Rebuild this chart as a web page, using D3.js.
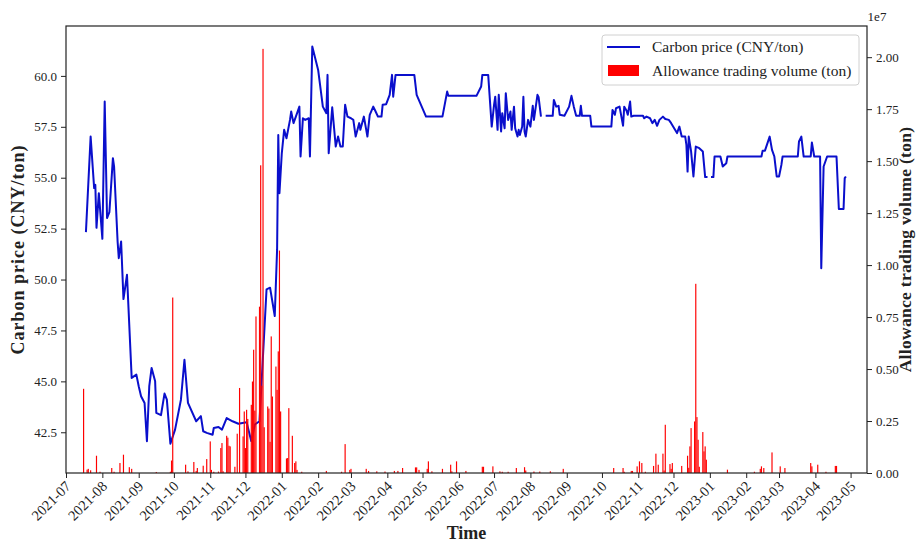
<!DOCTYPE html>
<html lang="en">
	<head>
		<meta charset="utf-8">
		<title>Carbon price and allowance trading volume</title>
		<script type="text/javascript" src="https://cdn.jsdelivr.net/npm/d3@7"></script>
		<style type="text/css">
			body { margin: 0; background: #fff; }
			text { font-family: "Liberation Serif", "Times New Roman", serif; }
		</style>
	</head>
	<body>
		<script type="text/javascript">

			//Width and height
			var w = 920;
			var h = 544;
			var pLeft = 66, pRight = 867, pTop = 26, pBottom = 473;

			//Carbon price (CNY/ton), null = gap in the line
			var priceDates = [
				"2021-07-18","2021-07-22","2021-07-25","2021-07-26","2021-07-27","2021-07-29","2021-08-01","2021-08-03","2021-08-05","2021-08-07",
				"2021-08-10","2021-08-11","2021-08-14","2021-08-15","2021-08-17","2021-08-19","2021-08-22","2021-08-24","2021-08-26","2021-08-30",
				"2021-09-01","2021-09-03","2021-09-06","2021-09-08","2021-09-10","2021-09-12","2021-09-15","2021-09-16","2021-09-20","2021-09-23",
				"2021-09-25","2021-09-28","2021-10-02","2021-10-07","2021-10-10","2021-10-13","2021-10-20","2021-10-24","2021-10-26","2021-10-29",
				"2021-11-03","2021-11-04","2021-11-08","2021-11-11","2021-11-15","2021-11-20","2021-11-25","2021-12-02","2021-12-06","2021-12-09",
				"2021-12-13","2021-12-19","2021-12-22","2021-12-26","2021-12-28","2021-12-29","2021-12-30","2022-01-01","2022-01-03","2022-01-05",
				"2022-01-08","2022-01-09","2022-01-11","2022-01-13","2022-01-16","2022-01-17","2022-01-19","2022-01-21","2022-01-24","2022-01-25",
				"2022-01-27","2022-02-01","2022-02-05","2022-02-08","2022-02-09","2022-02-10","2022-02-13","2022-02-16","2022-02-18","2022-02-20",
				"2022-02-22","2022-02-24","2022-02-26","2022-03-01","2022-03-03","2022-03-05","2022-03-08","2022-03-09","2022-03-12","2022-03-14",
				"2022-03-15","2022-03-17","2022-03-20","2022-03-22","2022-03-24","2022-03-27","2022-03-28","2022-03-31","2022-04-03","2022-04-05",
				"2022-04-06","2022-04-08","2022-04-24","2022-04-26","2022-05-04","2022-05-18","2022-05-22","2022-05-23","2022-06-16","2022-06-20",
				"2022-06-21","2022-06-26","2022-06-29","2022-07-01","2022-07-02","2022-07-04","2022-07-05","2022-07-07","2022-07-08","2022-07-10",
				"2022-07-11","2022-07-13","2022-07-15","2022-07-16","2022-07-18","2022-07-19","2022-07-21","2022-07-22","2022-07-23","2022-07-25",
				"2022-07-26","2022-07-27","2022-07-28","2022-07-30","2022-08-01","2022-08-03","2022-08-04","2022-08-07","2022-08-08","2022-08-10",
				"2022-08-12","2022-08-14","2022-08-20","2022-08-21","2022-08-23","2022-08-25","2022-08-26","2022-08-30","2022-09-03","2022-09-05",
				"2022-09-07","2022-09-09","2022-09-12","2022-09-13","2022-09-14","2022-09-21","2022-09-22","2022-10-09","2022-10-10","2022-10-12",
				"2022-10-13","2022-10-16","2022-10-19","2022-10-20","2022-10-22","2022-10-23","2022-10-25","2022-10-26","2022-10-28","2022-11-05",
				"2022-11-06","2022-11-08","2022-11-11","2022-11-13","2022-11-15","2022-11-17","2022-11-19","2022-11-22","2022-11-24","2022-11-27",
				"2022-11-29","2022-12-04","2022-12-06","2022-12-08","2022-12-11","2022-12-12","2022-12-13","2022-12-14","2022-12-16","2022-12-18",
				"2022-12-20","2022-12-23","2022-12-26","2022-12-28","2022-12-30","2022-12-31","2023-01-02","2023-01-04","2023-01-05","2023-01-10",
				"2023-01-12","2023-01-15","2023-01-16","2023-02-14","2023-02-15","2023-02-17","2023-02-21","2023-02-23","2023-02-25","2023-02-26",
				"2023-02-27","2023-03-01","2023-03-03","2023-03-04","2023-03-17","2023-03-18","2023-03-20","2023-03-22","2023-03-28","2023-03-29",
				"2023-03-31","2023-04-05","2023-04-06","2023-04-08","2023-04-11","2023-04-19","2023-04-21","2023-04-25","2023-04-26","2023-04-27"
			];
			var prices = [
				52.33,57.02,54.49,54.65,52.54,54.24,52.00,58.74,53.02,53.31,
				55.96,55.55,51.87,51.05,51.87,49.04,50.23,47.70,45.17,45.33,
				44.76,44.27,43.94,42.06,44.76,45.66,45.00,43.45,43.34,44.40,
				44.10,41.94,42.63,44.10,46.06,43.94,43.04,43.29,42.55,42.47,
				42.38,42.71,42.76,42.63,43.20,43.04,42.92,42.99,42.06,42.88,
				43.04,49.52,49.60,48.21,51.48,57.10,54.24,56.20,57.35,56.94,
				57.84,58.25,57.68,58.00,58.49,56.04,57.92,57.84,57.92,56.04,
				61.44,60.29,58.49,58.17,60.05,56.20,58.46,56.53,57.02,56.53,
				56.53,58.58,58.00,57.92,57.84,57.02,57.68,57.35,58.00,57.35,
				57.02,58.09,58.49,58.25,58.00,58.00,58.58,58.61,59.07,60.05,
				58.98,60.05,60.05,59.07,58.00,58.00,59.23,59.02,59.02,59.48,
				60.05,60.05,57.51,58.58,58.98,57.35,59.07,57.27,58.17,57.43,
				59.15,57.84,58.25,57.35,58.49,57.43,57.02,57.35,57.10,57.51,
				58.98,57.27,57.02,57.84,57.51,58.53,57.84,59.07,58.95,58.00,
				null,58.04,58.04,58.82,58.49,58.53,58.09,58.04,58.49,59.02,
				58.49,58.04,58.04,58.53,58.04,58.04,57.51,57.51,58.33,58.09,
				58.41,58.49,57.55,58.49,58.29,58.09,58.74,58.00,58.04,58.04,
				57.92,58.00,57.92,57.68,57.84,57.55,57.84,58.00,57.88,57.84,
				57.68,57.19,57.51,57.02,57.02,56.61,55.30,57.02,56.29,55.06,
				56.53,56.45,56.29,55.03,55.03,null,55.03,55.03,56.04,56.04,
				55.55,55.71,56.04,56.04,56.33,56.33,57.02,56.37,56.04,55.55,
				55.06,55.06,55.63,56.04,56.04,56.78,57.02,56.04,56.04,56.73,
				56.04,56.04,50.56,55.55,56.04,56.04,53.46,53.46,54.98,55.06
			];

			//Allowance trading volume (ton)
			var volumeDates = [
				"2021-07-16","2021-07-19","2021-07-20","2021-07-22","2021-07-27","2021-07-30","2021-08-09","2021-08-11","2021-08-16","2021-08-19",
				"2021-08-24","2021-08-26","2021-09-16","2021-09-28","2021-09-29","2021-09-30","2021-10-11","2021-10-13","2021-10-18","2021-10-20",
				"2021-10-21","2021-10-26","2021-10-29","2021-11-01","2021-11-02","2021-11-04","2021-11-08","2021-11-10","2021-11-11","2021-11-12",
				"2021-11-15","2021-11-16","2021-11-17","2021-11-18","2021-11-22","2021-11-24","2021-11-26","2021-11-29","2021-11-30","2021-12-01",
				"2021-12-02","2021-12-03","2021-12-06","2021-12-07","2021-12-08","2021-12-09","2021-12-10","2021-12-13","2021-12-14","2021-12-15",
				"2021-12-16","2021-12-17","2021-12-20","2021-12-21","2021-12-22","2021-12-23","2021-12-24","2021-12-27","2021-12-28","2021-12-29",
				"2021-12-30","2021-12-31","2022-01-05","2022-01-06","2022-01-07","2022-01-10","2022-01-12","2022-01-13","2022-01-14","2022-01-18",
				"2022-02-08","2022-02-21","2022-02-24","2022-02-28","2022-03-01","2022-03-14","2022-03-16","2022-03-23","2022-03-30","2022-04-07",
				"2022-04-10","2022-04-14","2022-04-25","2022-04-26","2022-04-28","2022-05-05","2022-05-06","2022-05-09","2022-05-18","2022-05-25",
				"2022-05-26","2022-05-30","2022-06-07","2022-06-21","2022-06-22","2022-06-30","2022-07-06","2022-07-08","2022-07-13","2022-07-20",
				"2022-07-27","2022-07-28","2022-08-04","2022-08-09","2022-08-18","2022-08-29","2022-10-11","2022-10-19","2022-10-20","2022-10-26",
				"2022-10-27","2022-10-31","2022-11-02","2022-11-04","2022-11-07","2022-11-14","2022-11-16","2022-11-18","2022-11-22","2022-11-23",
				"2022-11-24","2022-11-28","2022-11-29","2022-11-30","2022-12-08","2022-12-13","2022-12-14","2022-12-15","2022-12-16","2022-12-19",
				"2022-12-20","2022-12-21","2022-12-22","2022-12-23","2022-12-26","2022-12-27","2022-12-28","2022-12-29","2023-01-16","2023-02-08",
				"2023-02-13","2023-02-14","2023-02-16","2023-02-23","2023-03-02","2023-03-06","2023-03-28","2023-03-29","2023-04-03","2023-04-10",
				"2023-04-18","2023-04-19"
			];
			var volumes = [
				4050000,160000,200000,130000,830000,60000,240000,60000,480000,880000,
				280000,200000,50000,60000,600000,8440000,400000,80000,530000,100000,
				240000,350000,670000,1520000,150000,60000,70000,1200000,1440000,80000,
				1790000,1700000,1310000,1280000,300000,1890000,4090000,1760000,2960000,1200000,
				3040000,2600000,3280000,4400000,5930000,3000000,7530000,8000000,14800000,4200000,
				20400000,2200000,3200000,3100000,1500000,6570000,3680000,5120000,4000000,5850000,
				10700000,2960000,700000,720000,3120000,1790000,480000,560000,150000,60000,
				100000,60000,1390000,150000,200000,200000,100000,80000,70000,100000,
				100000,240000,270000,270000,150000,200000,560000,80000,200000,400000,
				80000,560000,100000,300000,300000,320000,80000,60000,60000,240000,
				280000,120000,70000,70000,80000,200000,240000,240000,60000,100000,
				100000,320000,560000,480000,60000,340000,930000,400000,930000,120000,
				2320000,430000,200000,480000,340000,830000,250000,1280000,2160000,2480000,
				9100000,2690000,1600000,300000,1970000,1040000,1280000,640000,160000,60000,
				200000,320000,240000,990000,320000,240000,480000,320000,400000,60000,
				340000,340000
			];

			//Axis ticks
			var priceTicks = [42.5, 45.0, 47.5, 50.0, 52.5, 55.0, 57.5, 60.0];
			var volumeTicks = [0, 2500000, 5000000, 7500000, 10000000, 12500000, 15000000, 17500000, 20000000];

			var parseDate = d3.timeParse("%Y-%m-%d");

			var priceData = priceDates.map(function(d, i) {
				return { Date: parseDate(d), Price: prices[i] };
			});
			var volumeData = volumeDates.map(function(d, i) {
				return { Date: parseDate(d), Volume: volumes[i] };
			});

			//Create scale functions
			var xScale = d3.scaleTime()
						   .domain([parseDate("2021-07-01"), parseDate("2023-05-15")])
						   .range([pLeft, pRight]);

			var yScale = d3.scaleLinear()
						   .domain([40.5, 62.45])
						   .range([pBottom, pTop]);

			var vScale = d3.scaleLinear()
						   .domain([0, 21500000])
						   .range([pBottom, pTop]);

			//Create SVG element
			var svg = d3.select("body")
						.append("svg")
						.attr("width", w)
						.attr("height", h);

			svg.append("rect")
			   .attr("width", w)
			   .attr("height", h)
			   .attr("fill", "#fff");

			//Price line
			var line = d3.line()
						 .defined(function(d) { return d.Price !== null; })
						 .x(function(d) { return xScale(d.Date); })
						 .y(function(d) { return yScale(d.Price); });

			svg.append("path")
			   .datum(priceData)
			   .attr("d", line)
			   .attr("fill", "none")
			   .attr("stroke", "#0a0fcc")
			   .attr("stroke-width", 2)
			   .attr("stroke-linejoin", "round");

			//Volume bars (twin axis, drawn on top)
			var barW = xScale(parseDate("2021-07-02")) - xScale(parseDate("2021-07-01"));

			svg.selectAll("rect.bar")
			   .data(volumeData)
			   .enter()
			   .append("rect")
			   .attr("class", "bar")
			   .attr("x", function(d) { return xScale(d.Date) - barW / 2; })
			   .attr("y", function(d) { return vScale(d.Volume); })
			   .attr("width", barW)
			   .attr("height", function(d) { return pBottom - vScale(d.Volume); })
			   .attr("fill", "#ff0000");

			//Axes
			var xAxis = d3.axisBottom(xScale)
						  .ticks(d3.timeMonth.every(1))
						  .tickFormat(d3.timeFormat("%Y-%m"))
						  .tickSize(5)
						  .tickPadding(3);

			var gx = svg.append("g")
						.attr("transform", "translate(0," + pBottom + ")")
						.call(xAxis);
			gx.selectAll("text")
			  .attr("font-size", "14.5px")
			  .attr("text-anchor", "end")
			  .attr("dy", "0.35em")
			  .attr("transform", "translate(-4,5) rotate(-45)");

			var gl = svg.append("g")
						.attr("transform", "translate(" + pLeft + ",0)")
						.call(d3.axisLeft(yScale)
								.tickValues(priceTicks)
								.tickFormat(d3.format(".1f"))
								.tickSize(5)
								.tickPadding(4));
			gl.selectAll("text").attr("font-size", "13px");

			var gr = svg.append("g")
						.attr("transform", "translate(" + pRight + ",0)")
						.call(d3.axisRight(vScale)
								.tickValues(volumeTicks)
								.tickFormat(function(d) { return (d / 1e7).toFixed(2); })
								.tickSize(5)
								.tickPadding(4));
			gr.selectAll("text").attr("font-size", "13px");

			svg.selectAll(".domain").remove();
			svg.selectAll(".tick line").attr("stroke", "#222");
			svg.selectAll(".tick text").attr("fill", "#222").style("font-family", "'Liberation Serif', serif");

			//Frame
			svg.append("rect")
			   .attr("x", pLeft)
			   .attr("y", pTop)
			   .attr("width", pRight - pLeft)
			   .attr("height", pBottom - pTop)
			   .attr("fill", "none")
			   .attr("stroke", "#222")
			   .attr("stroke-width", 1.2);

			//Offset text
			svg.append("text")
			   .attr("x", pRight + 10)
			   .attr("y", 21)
			   .attr("text-anchor", "middle")
			   .attr("font-size", "13px")
			   .attr("fill", "#222")
			   .text("1e7");

			//Axis labels
			svg.append("text")
			   .attr("transform", "translate(24," + (pTop + pBottom) / 2 + ") rotate(-90)")
			   .attr("text-anchor", "middle")
			   .attr("font-size", "18px")
			   .attr("font-weight", "bold")
			   .attr("letter-spacing", "1px")
			   .attr("fill", "#222")
			   .text("Carbon price (CNY/ton)");

			svg.append("text")
			   .attr("transform", "translate(911," + (pTop + pBottom) / 2 + ") rotate(-90)")
			   .attr("text-anchor", "middle")
			   .attr("font-size", "17.5px")
			   .attr("font-weight", "bold")
			   .attr("letter-spacing", "0.3px")
			   .attr("fill", "#222")
			   .text("Allowance trading volume (ton)");

			svg.append("text")
			   .attr("x", (pLeft + pRight) / 2)
			   .attr("y", 539)
			   .attr("text-anchor", "middle")
			   .attr("font-size", "18px")
			   .attr("font-weight", "bold")
			   .attr("fill", "#222")
			   .text("Time");

			//Legend
			var lg = svg.append("g");
			lg.append("rect")
			  .attr("x", 602)
			  .attr("y", 35)
			  .attr("width", 257)
			  .attr("height", 50)
			  .attr("rx", 3)
			  .attr("fill", "#fff")
			  .attr("fill-opacity", 0.85)
			  .attr("stroke", "#d0d0d0");
			lg.append("line")
			  .attr("x1", 607)
			  .attr("x2", 640)
			  .attr("y1", 47)
			  .attr("y2", 47)
			  .attr("stroke", "#0a0fcc")
			  .attr("stroke-width", 2);
			lg.append("rect")
			  .attr("x", 608)
			  .attr("y", 65)
			  .attr("width", 31)
			  .attr("height", 11)
			  .attr("fill", "#ff0000");
			lg.append("text")
			  .attr("x", 652)
			  .attr("y", 52)
			  .attr("font-size", "15.5px")
			  .attr("fill", "#222")
			  .text("Carbon price (CNY/ton)");
			lg.append("text")
			  .attr("x", 652)
			  .attr("y", 76)
			  .attr("font-size", "15.5px")
			  .attr("fill", "#222")
			  .text("Allowance trading volume (ton)");

		</script>
	</body>
</html>
